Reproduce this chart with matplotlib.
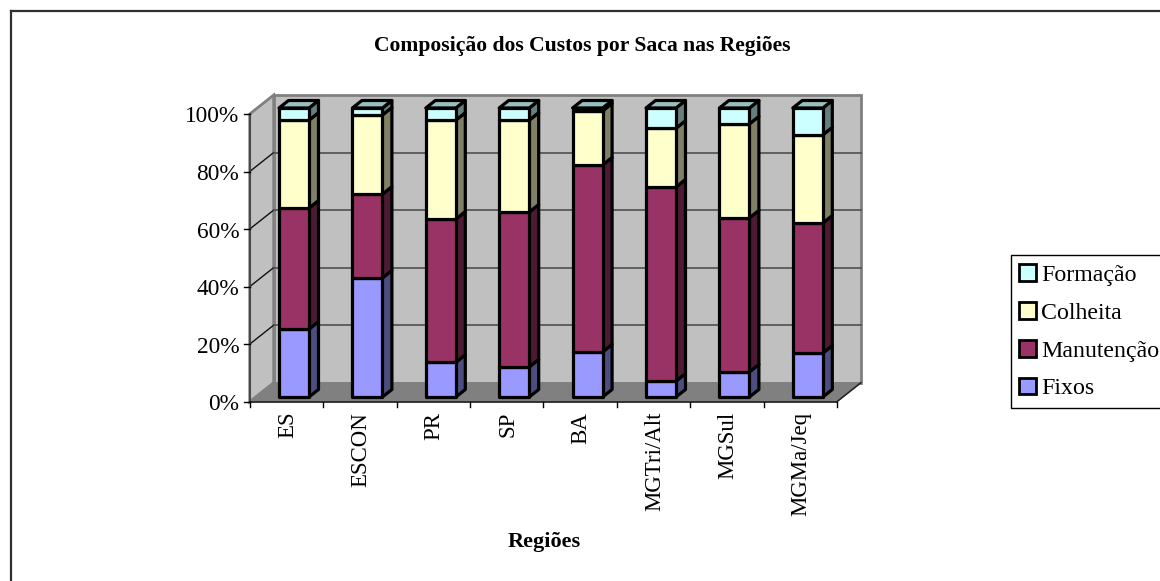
import matplotlib
matplotlib.use("Agg")
import matplotlib.pyplot as plt
from matplotlib.patches import Polygon, Rectangle
from matplotlib.lines import Line2D

plt.rcParams['font.family'] = ['Liberation Serif', 'DejaVu Serif']

title = "Composição dos Custos por Saca nas Regiões"
xlabel = "Regiões"
categories = ["ES", "ESCON", "PR", "SP", "BA", "MGTri/Alt", "MGSul", "MGMa/Jeq"]
fixos = [23.5, 41.2, 12.0, 10.4, 15.6, 5.5, 8.7, 15.2]
manutencao = [41.9, 29.0, 49.6, 53.6, 64.7, 67.2, 53.3, 45.0]
colheita = [30.4, 27.4, 34.2, 31.8, 18.7, 20.3, 32.5, 30.5]
formacao = [4.2, 2.4, 4.2, 4.2, 1.0, 7.0, 5.5, 9.3]
series = [("Fixos", fixos, "#9999FF"), ("Manutenção", manutencao, "#993366"),
          ("Colheita", colheita, "#FFFFCC"), ("Formação", formacao, "#CCFFFF")]
yticks = [0, 20, 40, 60, 80, 100]

W, H = 1160, 581
fig = plt.figure(figsize=(W / 100, H / 100), dpi=100)
L, R, T, B = 249.7, 836.9, 114.0, 401.7
ax = fig.add_axes([L / W, 1 - B / H, (R - L) / W, (B - T) / H])
n = len(categories)
ax.set_xlim(0, n)
ax.set_ylim(0, 100)
ax.set_axis_off()

cat_px = (R - L) / n
val_px = (B - T) / 100
DX, DY = 24.0 / cat_px, 19.0 / val_px          # wall depth in data units
def shade(c, f):
    r, g, b = matplotlib.colors.to_rgb(c)
    return (r * f, g * f, b * f)

# chart area border: only top and left edges are visible in the reference
fig.add_artist(Line2D([10.5 / W, 1], [1 - 11 / H, 1 - 11 / H], color="#303030", lw=1.6, transform=fig.transFigure))
fig.add_artist(Line2D([10.5 / W, 10.5 / W], [1 - 11 / H, 0], color="#303030", lw=1.6, transform=fig.transFigure))

# walls
wall = "#C0C0C0"
ax.add_patch(Polygon([(0, 0), (DX, DY), (DX, 100 + DY), (0, 100)], fc=wall, ec="#808080", lw=2, zorder=1, clip_on=False, joinstyle="miter"))
ax.add_patch(Rectangle((DX, DY), n, 100, fc=wall, ec="#808080", lw=2, zorder=1, clip_on=False))
ax.add_patch(Polygon([(0, 0), (n, 0), (n + DX, DY), (DX, DY)], fc="#808080", ec="#808080", lw=1, zorder=1.5, clip_on=False))
ax.plot([n, n + DX], [0, DY], color="#202020", lw=1.1, zorder=2.1, clip_on=False)
# gridlines
for v in yticks[1:-1]:
    ax.plot([0, DX], [v, v + DY], color="#101010", lw=1, zorder=2, clip_on=False)
    ax.plot([DX, n + DX], [v + DY, v + DY], color="#505050", lw=1.2, zorder=2, clip_on=False)
# axes front
ax.plot([0, 0], [0, 100], color="#404040", lw=1.2, zorder=2.2, clip_on=False)
ax.plot([0, n], [0, 0], color="#202020", lw=1.2, zorder=2.2, clip_on=False)
tw = 5.5
for v in yticks:
    ax.plot([-tw / cat_px, 0], [v, v], color="black", lw=1, zorder=2.2, clip_on=False)
    ax.annotate(f"{v}%", (0, v), xytext=(-10.5, -0.5), textcoords="offset pixels", ha="right", va="center_baseline",
                fontsize=16.8, color="black", annotation_clip=False)
for i in range(n + 1):
    ax.plot([i, i], [0, -tw / val_px], color="black", lw=1, zorder=2.2, clip_on=False)

# bars
bw = 30 / cat_px
bdx, bdy = 9.5 / cat_px, 7.5 / val_px
off_x, off_y = 29.3 / cat_px, 4.7 / val_px
scale = 289.0 / 287.7
for i, cat in enumerate(categories):
    x0 = i + off_x
    x1 = x0 + bw
    base = 0.0
    for name, vals, col in series:
        v0 = off_y + base * scale
        v1 = off_y + (base + vals[i]) * scale
        base += vals[i]
        kw = dict(ec="black", lw=2.3, clip_on=False, zorder=3 + i * 0.01, joinstyle="round")
        ax.add_patch(Polygon([(x1, v0), (x1 + bdx, v0 + bdy), (x1 + bdx, v1 + bdy), (x1, v1)], fc=shade(col, 0.5), **kw))
        if name == "Formação":
            ax.add_patch(Polygon([(x0, v1), (x1, v1), (x1 + bdx, v1 + bdy), (x0 + bdx, v1 + bdy)], fc=shade(col, 0.75), **kw))
        ax.add_patch(Rectangle((x0, v0), bw, v1 - v0, fc=col, **kw))
    ax.annotate(cat, (i + 0.5, 0), xytext=(1, -10), textcoords="offset pixels", rotation=90, ha="center", va="top",
                fontsize=16.5, color="black", annotation_clip=False)

fig.text(582 / W, 1 - 46.5 / H, title, ha="center", va="center", fontsize=15.6, fontweight="bold", color="black")
fig.text(544 / W, 1 - 541.5 / H, xlabel, ha="center", va="center", fontsize=16, fontweight="bold", color="black")

# legend
handles = [Rectangle((0, 0), 1, 1, fc=c, ec="black", lw=2) for _, _, c in series[::-1]]
leg = fig.legend(handles, [s[0] for s in series[::-1]], loc="upper left",
                 bbox_to_anchor=(1010.5 / W, 1 - 255.5 / H), bbox_transform=fig.transFigure,
                 fontsize=17.2, frameon=True, fancybox=False, edgecolor="black", framealpha=1,
                 borderpad=0.35, labelspacing=0.68, handlelength=0.7, handleheight=0.7, handletextpad=0.22, borderaxespad=0)
leg.get_frame().set_linewidth(1)

fig.savefig("out.png", dpi=100)
